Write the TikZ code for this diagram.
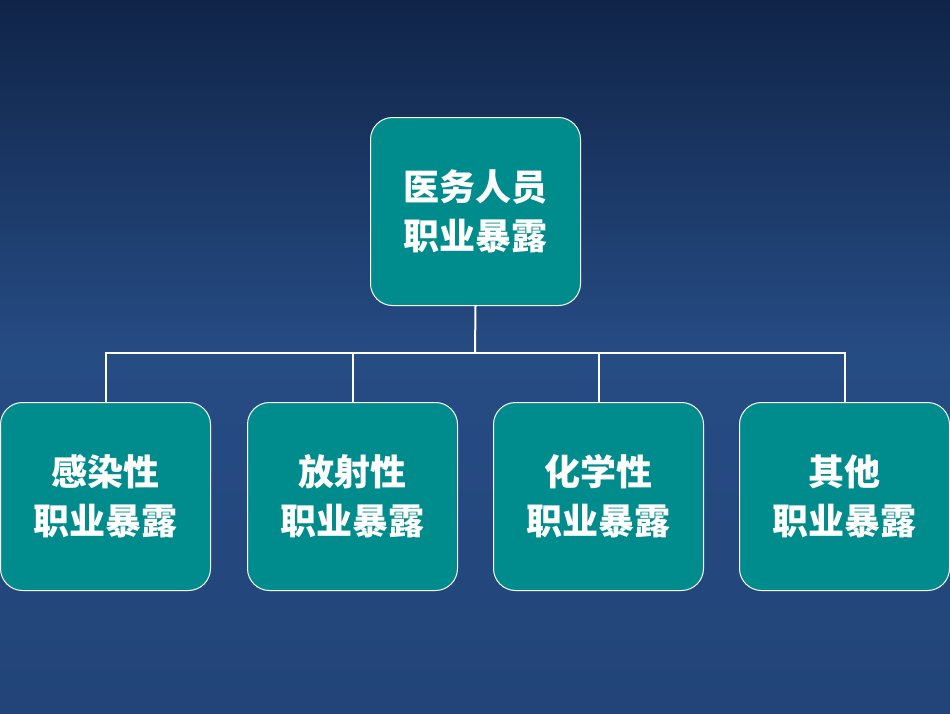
\documentclass[tikz,border=0pt]{standalone}
\usepackage{fontspec}
\newfontfamily\cjk{Noto Sans CJK SC}
\begin{document}
\begin{tikzpicture}[x=1pt,y=-1pt,
  box/.style={draw=white,line width=1pt,fill={rgb,255:red,0;green,140;blue,140},rounded corners=22pt,minimum width=210pt,minimum height=188pt,text=white,font=\cjk\bfseries\fontsize{36}{49}\selectfont,align=center,anchor=north west},
  conn/.style={draw=white,line width=2pt}]
\shade[top color={rgb,255:red,16;green,36;blue,72},bottom color={rgb,255:red,34;green,68;blue,120},middle color={rgb,255:red,38;green,76;blue,132}] (0,0) rectangle (950,713);
\useasboundingbox (0,0) rectangle (950,713);
\node[box] (top) at (370,117) {医务人员\\职业暴露};
\node[box] (a) at (0,402) {感染性\\职业暴露};
\node[box] (b) at (247,402) {放射性\\职业暴露};
\node[box] (c) at (493,402) {化学性\\职业暴露};
\node[box] (d) at (739,402) {其他\\职业暴露};
\coordinate (j) at (475,353);
\draw[conn] (top.south) -- (j);
\draw[conn] (a.north) |- (j) -| (d.north);
\draw[conn] (b.north) -- (b.north |- j);
\draw[conn] (c.north) -- (c.north |- j);
\end{tikzpicture}
\end{document}
